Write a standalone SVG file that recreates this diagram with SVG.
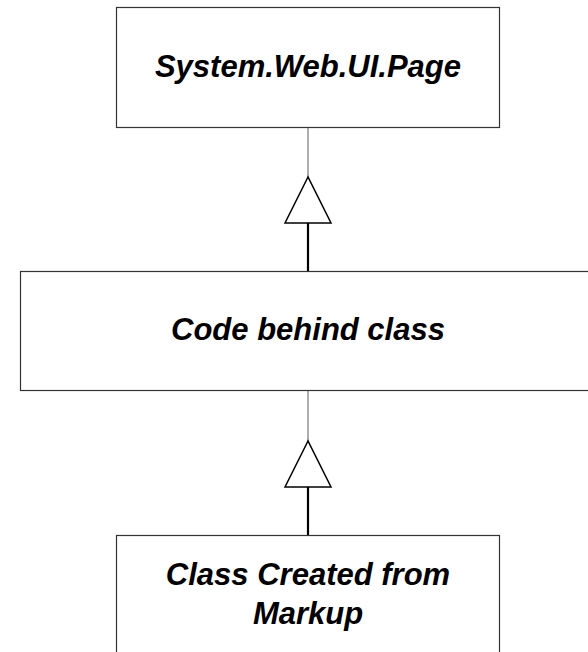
<svg xmlns="http://www.w3.org/2000/svg" width="588" height="652" viewBox="0 0 588 652">
<style>
.box{fill:#fff;stroke:#333;stroke-width:1.2}
.lbl{font-family:"Liberation Sans",Arial,sans-serif;font-size:31px;font-weight:bold;font-style:italic;fill:#000;text-anchor:middle}
.thin{stroke:#777;stroke-width:1.2;fill:none}
.thick{stroke:#000;stroke-width:2.2;fill:none}
.tri{fill:#fff;stroke:#000;stroke-width:1.5;stroke-linejoin:miter}
</style>
<rect width="588" height="652" fill="#fff"/>
<g id="connectors">
<line class="thin" x1="308" y1="127" x2="308" y2="177"/>
<polygon class="tri" points="308,177 285,223 331,223"/>
<line class="thick" x1="308" y1="223" x2="308" y2="271"/>
<line class="thin" x1="308" y1="390" x2="308" y2="441"/>
<polygon class="tri" points="308,441 285,487 331,487"/>
<line class="thick" x1="308" y1="487" x2="308" y2="535"/>
</g>
<g id="page">
<rect class="box" x="116.5" y="7.5" width="383" height="120"/>
<text class="lbl" x="308" y="77">System.Web.UI.Page</text>
</g>
<g id="codebehind">
<rect class="box" x="20.5" y="271.5" width="576" height="119"/>
<text class="lbl" x="308" y="340">Code behind class</text>
</g>
<g id="markup">
<rect class="box" x="116.5" y="535.5" width="383" height="130"/>
<text class="lbl" x="308" y="585">Class Created from</text>
<text class="lbl" x="308" y="624">Markup</text>
</g>
</svg>
